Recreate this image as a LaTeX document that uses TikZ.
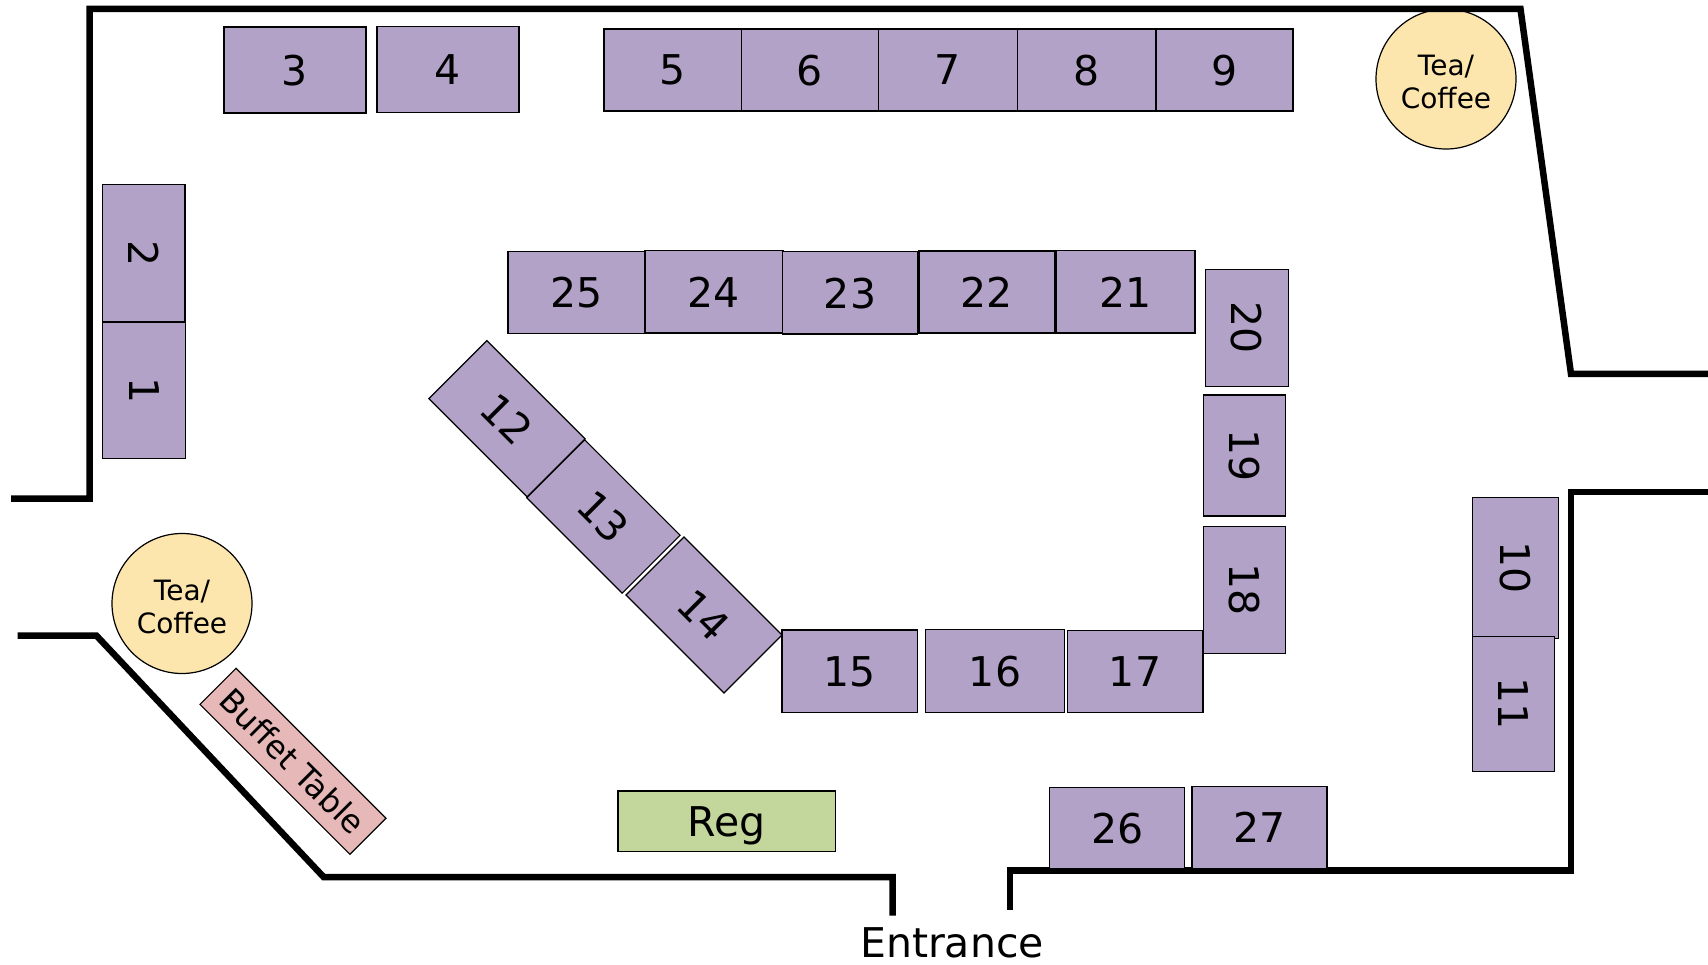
\documentclass[tikz,border=0pt]{standalone}
\usepackage{fontspec}
\setmainfont{DejaVu Sans}
\definecolor{tablepurple}{HTML}{B3A2C7}
\definecolor{teayellow}{HTML}{FCE6AE}
\definecolor{buffetpink}{HTML}{E6B9B8}
\definecolor{reggreen}{HTML}{C3D69B}
\tikzset{
  tablebox/.style={draw=black, line width=1.2pt, fill=tablepurple, inner sep=0pt, text depth=0pt,
    font=\fontsize{41}{41}\selectfont},
  teabox/.style={draw=black, line width=1.2pt, fill=teayellow, circle, minimum size=140pt, inner sep=0pt,
    align=center, text height=59pt, text depth=0pt, font=\fontsize{28}{33}\selectfont},
  wall/.style={line width=6.5pt, miter limit=10}
}
\begin{document}
\begin{tikzpicture}[x=1pt, y=-1pt]
  \useasboundingbox (0,0) rectangle (1708,965);

  \node[teabox] (teaTop) at (1446,79) {Tea/\\Coffee};
  \node[teabox] (teaLeft) at (182,603.5) {Tea/\\Coffee};

  \draw[wall] (11,498.7)--(89.5,498.7)--(89.5,9)--(1520.5,9)--(1571,374)--(1708,374); % upper wall
  \draw[wall] (1708,492)--(1571,492)--(1571,870.7)--(1009.8,870.7)--(1009.8,910); % right wall
  \draw[wall] (892.7,915.7)--(892.7,877)--(323.6,877)--(96.5,635.7)--(17.5,635.7); % lower wall

  \node[tablebox, minimum width=142pt, minimum height=86pt] (tbl3) at (295,70) {3};
  \node[tablebox, minimum width=142pt, minimum height=86pt] (tbl4) at (448,69.5) {4};
  \node[tablebox, minimum width=137.6pt, minimum height=82pt] (tbl5) at (672.8,70) {5};
  \node[tablebox, minimum width=137pt, minimum height=82pt] (tbl6) at (810,70) {6};
  \node[tablebox, minimum width=139pt, minimum height=82pt] (tbl7) at (948,70) {7};
  \node[tablebox, minimum width=138.5pt, minimum height=82pt] (tbl8) at (1086.5,70) {8};
  \node[tablebox, minimum width=137pt, minimum height=82pt] (tbl9) at (1224.5,70) {9};

  \node[tablebox, minimum width=137.4pt, minimum height=82.4pt, rotate=-90] (tbl2) at (143.8,253.4) {2};
  \node[tablebox, minimum width=136.5pt, minimum height=83pt, rotate=-90] (tbl1) at (144,390.3) {1};

  \node[tablebox, minimum width=137pt, minimum height=82pt] (tbl25) at (576.5,292.5) {25};
  \node[tablebox, minimum width=138pt, minimum height=82.5pt] (tbl24) at (714,291.8) {24};
  \node[tablebox, minimum width=135pt, minimum height=82.5pt] (tbl23) at (850,292.8) {23};
  \node[tablebox, minimum width=135.5pt, minimum height=82pt] (tbl22) at (986.8,292) {22};
  \node[tablebox, minimum width=139pt, minimum height=82.5pt] (tbl21) at (1125.5,291.8) {21};

  \node[tablebox, minimum width=117.7pt, minimum height=82.3pt, rotate=-90] (tbl20) at (1247,328) {20};
  \node[tablebox, minimum width=121pt, minimum height=82pt, rotate=-90] (tbl19) at (1244.5,455.5) {19};
  \node[tablebox, minimum width=127.7pt, minimum height=82pt, rotate=-90] (tbl18) at (1244.5,590) {18};

  \node[tablebox, minimum width=135.8pt, minimum height=82pt] (tbl17) at (1135,671.7) {17};
  \node[tablebox, minimum width=139pt, minimum height=82.3pt] (tbl16) at (995,671) {16};
  \node[tablebox, minimum width=135.3pt, minimum height=82.7pt] (tbl15) at (849.7,671.4) {15};

  \node[tablebox, minimum width=139pt, minimum height=82pt, rotate=-45] (tbl12) at (507,418.7) {12};
  \node[tablebox, minimum width=135pt, minimum height=82pt, rotate=-45] (tbl13) at (603.4,516.5) {13};
  \node[tablebox, minimum width=138.6pt, minimum height=82pt, rotate=-45] (tbl14) at (704,615) {14};

  \node[tablebox, minimum width=135pt, minimum height=81.4pt] (tbl26) at (1117.3,828) {26};
  \node[tablebox, minimum width=135pt, minimum height=82.4pt] (tbl27) at (1259.5,827.5) {27};

  \node[tablebox, minimum width=141.7pt, minimum height=86pt, rotate=-90] (tbl10) at (1515.6,568) {10};
  \node[tablebox, minimum width=135.7pt, minimum height=81.7pt, rotate=-90] (tbl11) at (1513.3,704) {11};

  \node[tablebox, fill=reggreen, minimum width=217.4pt, minimum height=60.7pt] (reg) at (726.7,821.4) {Reg};
  \node[tablebox, fill=buffetpink, minimum width=212pt, minimum height=51pt, rotate=-45,
    font=\fontsize{32}{32}\selectfont] (buffet) at (293,761.3) {Buffet Table};

  \node[text depth=0pt, inner sep=0pt, font=\fontsize{41}{41}\selectfont] (entrance) at (952,943) {Entrance};
\end{tikzpicture}
\end{document}
